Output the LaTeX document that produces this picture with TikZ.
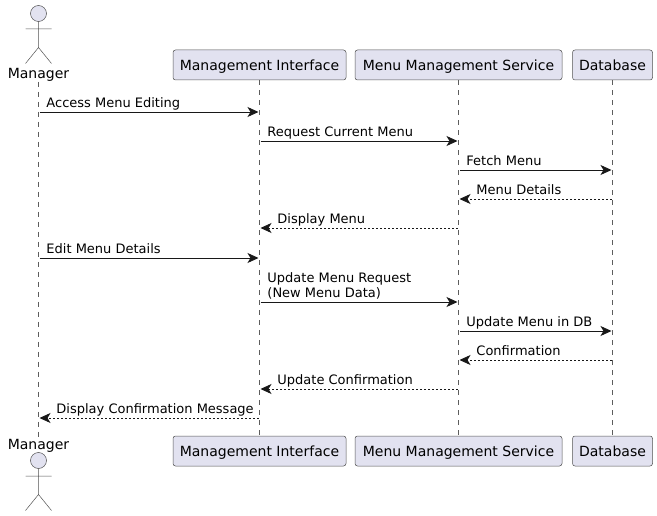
\documentclass[tikz,border=0pt]{standalone}
\usepackage{xcolor}
\usepackage{fontspec}
\setmainfont{DejaVu Sans}
\usetikzlibrary{arrows.meta, positioning}
\definecolor{partfill}{HTML}{E2E2F0}
\definecolor{partline}{HTML}{181818}
\tikzset{
	partbox/.style={draw=partline!75, fill=partfill, rounded corners=2.5pt, line width=0.5pt, font=\fontsize{14}{16}\selectfont, minimum height=30pt, inner sep=0pt, anchor=center, text height=14.5pt, text depth=3pt},
	lifeline/.style={draw=partline!70, line width=0.4pt, dash pattern=on 5pt off 5pt},
	msg/.style={-{Stealth[length=11pt, width=10pt, inset=3pt]}, draw=partline, line width=0.9pt, shorten >=1pt, shorten <=1pt},
	reply/.style={msg, dash pattern=on 2pt off 2pt},
	msgtext/.style={font=\fontsize{13}{15}\selectfont, inner sep=0pt, anchor=south west, align=left, text depth=3pt, yshift=1pt},
	actorname/.style={font=\fontsize{14}{16}\selectfont, inner sep=0pt},
	actor/.pic={
		\draw[draw=partline!75, fill=partfill, line width=0.5pt] (0,0) circle (8);
		\draw[draw=partline!75, line width=0.5pt] (0,-8) -- (0,-34) (-13,-15.5) -- (13,-15.5) (-13,-50) -- (0,-34) -- (13,-50);
	}
}
\begin{document}
\begin{tikzpicture}[x=1pt, y=1pt]
	\useasboundingbox (0,0) rectangle (657,-516);
	% top row
	\node[actorname] (mgrtop) at (38.5,-75) {Manager};
	\node[partbox, minimum width=173pt] (uitop) at (259.5,-65) {Management Interface};
	\node[partbox, minimum width=207pt] (svctop) at (458.5,-65) {Menu Management Service};
	\node[partbox, minimum width=80pt] (dbtop) at (612.5,-65) {Database};
	\pic at (38.5,-13.5) {actor};
	% bottom row
	\node[actorname] (mgrbot) at (38.5,-446) {Manager};
	\node[partbox, minimum width=173pt] (uibot) at (259.5,-451) {Management Interface};
	\node[partbox, minimum width=207pt] (svcbot) at (458.5,-451) {Menu Management Service};
	\node[partbox, minimum width=80pt] (dbbot) at (612.5,-451) {Database};
	\pic at (38.5,-460.5) {actor};
	% lifelines
	\draw[lifeline] (mgrtop) -- (mgrbot);
	\draw[lifeline] (uitop) -- (uibot);
	\draw[lifeline] (svctop) -- (svcbot);
	\draw[lifeline] (dbtop) -- (dbbot);
	% message rows
	\foreach \rowname/\rowy in {ra/112, rb/141, rc/170, rd/199, re/228, rf/258, rg/302, rh/331, ri/360, rj/389, rk/418}
		\coordinate (\rowname) at (0,-\rowy);
	\draw[msg] (mgrtop |- ra) -- (uitop |- ra) node[msgtext, pos=0, xshift=7.5pt] (la) {Access Menu Editing};
	\draw[msg] (uitop |- rb) -- (svctop |- rb) node[msgtext, pos=0, xshift=7.5pt] (lb) {Request Current Menu};
	\draw[msg] (svctop |- rc) -- (dbtop |- rc) node[msgtext, pos=0, xshift=7.5pt] (lc) {Fetch Menu};
	\draw[reply] (dbtop |- rd) -- (svctop |- rd) node[msgtext, pos=1, xshift=17.5pt] (ld) {Menu Details};
	\draw[reply] (svctop |- re) -- (uitop |- re) node[msgtext, pos=1, xshift=17.5pt] (le) {Display Menu};
	\draw[msg] (mgrtop |- rf) -- (uitop |- rf) node[msgtext, pos=0, xshift=7.5pt] (lf) {Edit Menu Details};
	\draw[msg] (uitop |- rg) -- (svctop |- rg) node[msgtext, pos=0, xshift=7.5pt] (lg) {Update Menu Request\\(New Menu Data)};
	\draw[msg] (svctop |- rh) -- (dbtop |- rh) node[msgtext, pos=0, xshift=7.5pt] (lh) {Update Menu in DB};
	\draw[reply] (dbtop |- ri) -- (svctop |- ri) node[msgtext, pos=1, xshift=17.5pt] (li) {Confirmation};
	\draw[reply] (svctop |- rj) -- (uitop |- rj) node[msgtext, pos=1, xshift=17.5pt] (lj) {Update Confirmation};
	\draw[reply] (uitop |- rk) -- (mgrtop |- rk) node[msgtext, pos=1, xshift=17.5pt] (lk) {Display Confirmation Message};
\end{tikzpicture}
\end{document}
